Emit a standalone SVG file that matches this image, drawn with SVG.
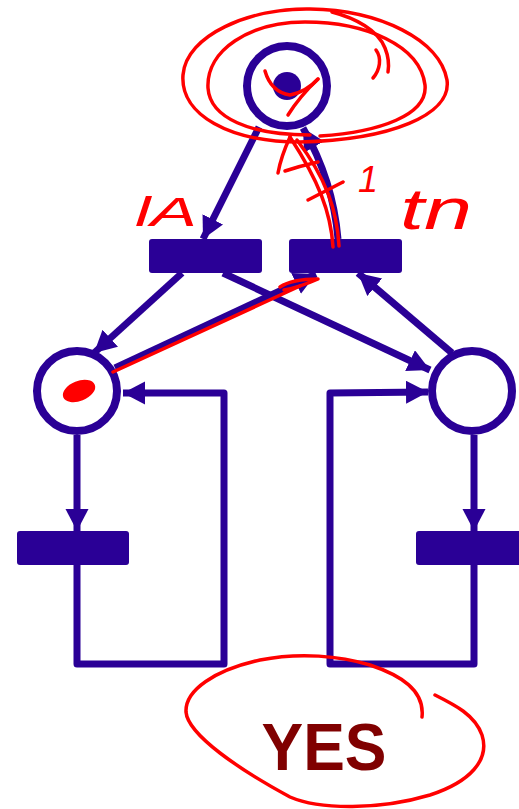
<svg xmlns="http://www.w3.org/2000/svg" width="519" height="809" viewBox="0 0 519 809">
  <style>
    .place { fill: #ffffff; stroke: #2a0096; stroke-width: 8; }
    .token { fill: #2a0096; }
    .trans { fill: #2a0096; }
    .arc { fill: none; stroke: #2a0096; stroke-width: 7; stroke-linejoin: round; }
    .ink { fill: none; stroke: #ff0000; stroke-width: 3.5; stroke-linecap: round; stroke-linejoin: round; }
    .hand { fill: #ff0000; font-family: "Liberation Sans", "DejaVu Sans", sans-serif; font-style: italic; }
    .verdict { fill: #800000; font-family: "Liberation Sans", Arial, sans-serif; font-weight: bold; }
  </style>
  <defs>
    <marker id="arrow" markerUnits="userSpaceOnUse" markerWidth="24" markerHeight="24" refX="22" refY="11.5" orient="auto">
      <path d="M0,0 L22,11.5 L0,23 Z" fill="#2a0096"/>
    </marker>
  </defs>

  <rect width="519" height="809" fill="#ffffff"/>

  <!-- connectors -->
  <g id="arcs">
    <line class="arc" x1="259" y1="127" x2="203" y2="239" marker-end="url(#arrow)"/>
    <path class="arc" d="M338,239 Q333,180 303,128" marker-end="url(#arrow)"/>
    <line class="arc" x1="223" y1="273" x2="430" y2="370" marker-end="url(#arrow)"/>
    <line class="arc" x1="182" y1="273" x2="94" y2="353" marker-end="url(#arrow)"/>
    <line class="arc" x1="452" y1="353" x2="358" y2="273" marker-end="url(#arrow)"/>
    <line class="arc" x1="115" y1="368" x2="316" y2="274" marker-end="url(#arrow)"/>
    <line class="arc" x1="77" y1="435" x2="77" y2="531" marker-end="url(#arrow)"/>
    <polyline class="arc" points="77,565 77,664 224,664 224,393 123,393" marker-end="url(#arrow)"/>
    <line class="arc" x1="474" y1="435" x2="474" y2="531" marker-end="url(#arrow)"/>
    <polyline class="arc" points="474,565 474,664 330,664 330,393 428,392" marker-end="url(#arrow)"/>
  </g>

  <!-- places -->
  <g id="p-top">
    <circle class="place" cx="287" cy="86" r="40"/>
    <circle class="token" cx="287" cy="86" r="14"/>
  </g>
  <g id="p-left">
    <circle class="place" cx="77" cy="391" r="40"/>
  </g>
  <g id="p-right">
    <circle class="place" cx="472" cy="391" r="40"/>
  </g>

  <!-- transitions -->
  <g id="t-top-left"><rect class="trans" x="149" y="239" width="113" height="34" rx="3"/></g>
  <g id="t-top-right"><rect class="trans" x="289" y="239" width="113" height="34" rx="3"/></g>
  <g id="t-bottom-left"><rect class="trans" x="17" y="531" width="112" height="34" rx="3"/></g>
  <g id="t-bottom-right"><rect class="trans" x="416" y="531" width="112" height="34" rx="3"/></g>

  <!-- handwritten red ink -->
  <g id="ink">
    <!-- loops around the top place -->
    <path class="ink" d="M300,142 C230,142 180,115 183,75 C186,35 250,8 310,9 C380,10 440,40 447,80 C452,115 390,140 300,142"/>
    <path class="ink" d="M310,135 C250,135 210,118 208,88 C206,50 250,22 305,22 C365,22 420,45 425,85 C428,115 380,132 320,136"/>
    <path class="ink" d="M332,12 C355,18 378,30 385,48 C389,58 389,66 388,72"/>
    <path class="ink" d="M376,50 C382,58 380,70 373,78"/>
    <!-- tick on the token -->
    <path class="ink" d="M265,71 Q271,92 290,95 Q306,92 318,79"/>
    <path class="ink" d="M318,79 Q300,96 288,115"/>
    <!-- arrow rising from the right transition -->
    <path class="ink" d="M333,247 C331,212 318,180 290,137"/>
    <path class="ink" d="M339,246 C337,210 326,178 297,140"/>
    <path class="ink" d="M290,137 C284,150 280,162 278,173"/>
    <path class="ink" d="M285,171 Q300,166 318,162"/>
    <path class="ink" d="M308,200 L343,182"/>
    <!-- stroke along the left place arc -->
    <path class="ink" d="M113,372 L300,286"/>
    <path class="ink" d="M280,287 Q292,279 318,279 Q300,287 284,290"/>
    <!-- mark in the left place -->
    <ellipse cx="79" cy="391" rx="17" ry="10" transform="rotate(-22 79 391)" fill="#ff0000"/>
    <!-- loop around the verdict -->
    <path class="ink" d="M422,717 C425,690 400,675 370,665 C340,656 300,652 260,660 C215,670 185,690 186,712 C188,735 240,770 290,797 C320,810 380,810 430,795 C470,782 490,760 482,735 C475,715 455,705 435,695"/>
  </g>

  <g id="notes">
    <text class="hand" x="135" y="226" font-size="40" textLength="62" lengthAdjust="spacingAndGlyphs">lA</text>
    <text class="hand" x="358" y="192" font-size="36">1</text>
    <text class="hand" x="400" y="229" font-size="58" textLength="72" lengthAdjust="spacingAndGlyphs">tn</text>
  </g>

  <g id="verdict">
    <text class="verdict" x="324" y="770" font-size="66" text-anchor="middle" textLength="125" lengthAdjust="spacingAndGlyphs">YES</text>
  </g>
</svg>
